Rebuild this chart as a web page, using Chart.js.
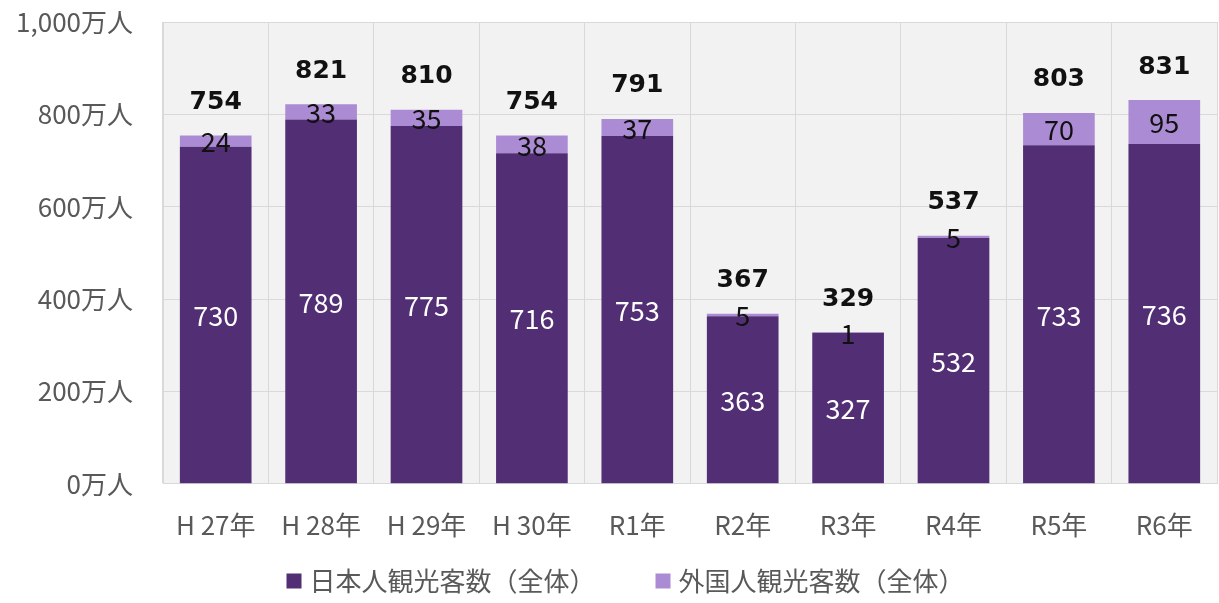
<!DOCTYPE html>
<html>
<head>
<meta charset="utf-8">
<script src="https://cdn.jsdelivr.net/npm/chart.js@4/dist/chart.umd.min.js"></script>
<style>
  html, body { margin: 0; padding: 0; background: #fff; }
  #wrap { width: 1219px; height: 603px; }
</style>
</head>
<body>
<div id="wrap"><canvas id="visitorChart"></canvas></div>
<script>
var years = ["H 27年", "H 28年", "H 29年", "H 30年", "R1年", "R2年", "R3年", "R4年", "R5年", "R6年"];
var japanese = [730, 789, 775, 716, 753, 363, 327, 532, 733, 736];
var foreign = [24, 33, 35, 38, 37, 5, 1, 5, 70, 95];
var totals = [754, 821, 810, 754, 791, 367, 329, 537, 803, 831];

var FONT = "'Noto Sans CJK JP', 'Noto Sans', sans-serif";
var BOLD = "'DejaVu Sans', 'Noto Sans CJK JP', sans-serif";

// plot background, value labels and the legend row
var decor = {
  id: "decor",
  beforeDraw: function(chart) {
    var a = chart.chartArea, ctx = chart.ctx;
    ctx.save();
    ctx.fillStyle = "#f2f2f2";
    ctx.fillRect(a.left, a.top, a.right - a.left, a.bottom - a.top);
    ctx.restore();
  },
  afterDatasetsDraw: function(chart) {
    var ctx = chart.ctx;
    ctx.save();
    ctx.textAlign = "center";
    ctx.textBaseline = "middle";
    var m0 = chart.getDatasetMeta(0), m1 = chart.getDatasetMeta(1);
    m0.data.forEach(function(bar, i) {
      ctx.fillStyle = "#ffffff";
      ctx.font = "27px " + FONT;
      ctx.fillText(japanese[i], bar.x, (bar.y + bar.base) / 2 + 1);
    });
    m1.data.forEach(function(bar, i) {
      ctx.fillStyle = "#111111";
      ctx.font = "27px " + FONT;
      ctx.fillText(foreign[i], bar.x, (bar.y + bar.base) / 2 + 1);
      ctx.font = "bold 25px " + BOLD;
      ctx.fillText(totals[i], bar.x, bar.y - 33);
    });
    ctx.restore();
  },
  afterDraw: function(chart) {
    var ctx = chart.ctx, ds = chart.data.datasets;
    var y = 581, box = 15, gap = 8, spacing = 60;
    ctx.save();
    ctx.font = "26px " + FONT;
    ctx.textBaseline = "middle";
    ctx.textAlign = "left";
    var widths = ds.map(function(d) { return box + gap + ctx.measureText(d.label).width; });
    var total = widths.reduce(function(a, b) { return a + b; }, 0) + spacing * (ds.length - 1);
    var x = (chart.width - total) / 2 + 16;
    ds.forEach(function(d, i) {
      ctx.fillStyle = d.backgroundColor;
      ctx.fillRect(x, y - box / 2, box, box);
      ctx.fillStyle = "#595959";
      ctx.fillText(d.label, x + box + gap, y);
      x += widths[i] + spacing;
    });
    ctx.restore();
  }
};

var ctx = document.getElementById("visitorChart").getContext("2d");
var visitorChart = new Chart(ctx, {
  type: "bar",
  data: {
    labels: years,
    datasets: [{
      label: "日本人観光客数（全体）",
      data: japanese,
      backgroundColor: "#522e75"
    }, {
      label: "外国人観光客数（全体）",
      data: foreign,
      backgroundColor: "#ab8bd3"
    }]
  },
  options: {
    responsive: true,
    maintainAspectRatio: false,
    animation: false,
    categoryPercentage: 1,
    barPercentage: 0.68,
    layout: { padding: { top: 22, right: 2, left: 0, bottom: 36 } },
    plugins: {
      tooltip: { enabled: false },
      legend: { display: false }
    },
    scales: {
      x: {
        stacked: true,
        grid: { offset: true, color: "#d9d9d9", drawTicks: false },
        border: { color: "#d9d9d9" },
        ticks: { color: "#595959", font: { family: FONT, size: 26 }, padding: 26 }
      },
      y: {
        stacked: true,
        min: 0,
        max: 1000,
        afterFit: function(scale) { scale.width = 163; scale.paddingTop = 0; },
        grid: { color: "#d9d9d9", drawTicks: false },
        border: { color: "#d9d9d9" },
        ticks: {
          stepSize: 200,
          color: "#595959",
          padding: 30,
          font: { family: FONT, size: 26 },
          callback: function(v) { return v.toLocaleString("en-US") + "万人"; }
        }
      }
    }
  },
  plugins: [decor]
});
</script>
</body>
</html>
